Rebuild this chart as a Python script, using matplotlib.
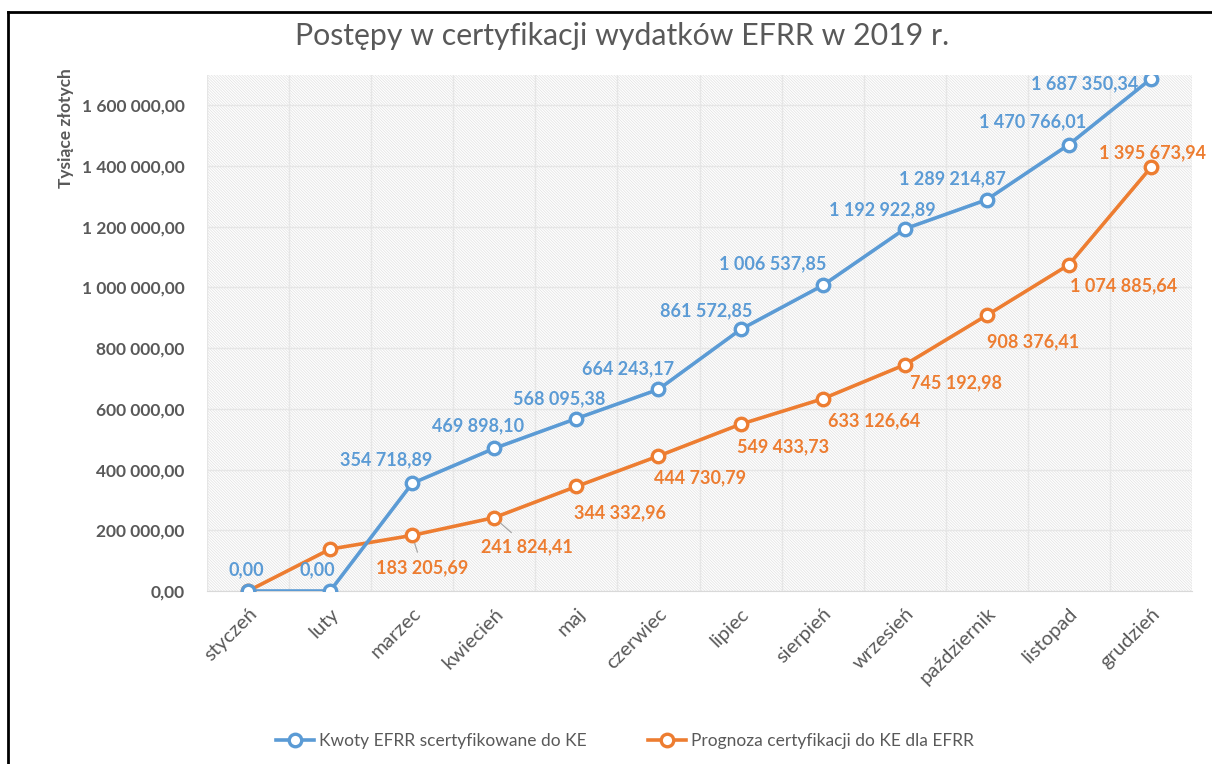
import matplotlib
matplotlib.use("Agg")
import matplotlib.pyplot as plt
from matplotlib.patches import Rectangle
from matplotlib.lines import Line2D
from matplotlib.ticker import FuncFormatter, MultipleLocator

plt.rcParams['font.family'] = ['Lato', 'DejaVu Sans']
plt.rcParams['hatch.linewidth'] = 0.5

months = ["styczeń", "luty", "marzec", "kwiecień", "maj", "czerwiec", "lipiec",
          "sierpień", "wrzesień", "październik", "listopad", "grudzień"]
certified = [0.00, 0.00, 354718.89, 469898.10, 568095.38, 664243.17, 861572.85,
             1006537.85, 1192922.89, 1289214.87, 1470766.01, 1687350.34]
forecast = [0.00, 138000.00, 183205.69, 241824.41, 344332.96, 444730.79, 549433.73,
            633126.64, 745192.98, 908376.41, 1074885.64, 1395673.94]
# which points carry a data label
cert_labelled = [True] * 12
fc_labelled = [False, False] + [True] * 10

BLUE = "#5B9BD5"
ORANGE = "#ED7D31"
GREY = "#595959"

def pl(v):
    s = f"{v:,.2f}"
    return s.replace(",", " ").replace(".", ",")

fig = plt.figure(figsize=(12.12, 7.64), dpi=100)
ax = fig.add_axes([207 / 1212, 1 - 591 / 764, (1192 - 207) / 1212, (591 - 75) / 764])

x = list(range(len(months)))
ax.add_patch(Rectangle((0, 0), 1, 1, transform=ax.transAxes, facecolor="white",
                       edgecolor="#e0e0e0", hatch="\\" * 12, lw=0, zorder=0))

ax.plot(x, certified, color=BLUE, lw=2.6, marker="o", ms=9, mfc="white",
        mec=BLUE, mew=2.4, zorder=4, label="Kwoty EFRR scertyfikowane do KE")
ax.plot(x, forecast, color=ORANGE, lw=2.6, marker="o", ms=9, mfc="white",
        mec=ORANGE, mew=2.4, zorder=3, label="Prognoza certyfikacji do KE dla EFRR")

# label offsets in pixels (dx, dy) relative to the marker
cert_off = [(-2, 21), (-13, 21), (-26, 24), (-16, 23), (-17, 20), (-30, 21), (-34, 19),
            (-50, 22), (-22, 19), (-34, 21), (-36, 23), (-66, -5)]
fc_off = [(0, 0), (0, 0), (10, -32), (33, -29), (44, -26), (42, -22), (43, -23),
          (51, -22), (51, -18), (46, -26), (55, -21), (2, 15)]

for i, v in enumerate(certified):
    if cert_labelled[i]:
        ax.annotate(pl(v), (i, v), xytext=cert_off[i], textcoords="offset pixels",
                    ha="center", va="center", color=BLUE, fontsize=13,
                    fontweight="bold", zorder=6)
for i, v in enumerate(forecast):
    if fc_labelled[i]:
        arrow = None
        if i in (2, 3):
            arrow = dict(arrowstyle="-", color="#a6a6a6", lw=0.9, shrinkA=3, shrinkB=6)
        ax.annotate(pl(v), (i, v), xytext=fc_off[i], textcoords="offset pixels",
                    ha="center", va="center", color=ORANGE, fontsize=13,
                    fontweight="bold", arrowprops=arrow, zorder=6)

ax.set_xlim(-0.5, 11.5)
ax.set_ylim(0, 1700000)
ax.yaxis.set_major_locator(MultipleLocator(200000))
ax.yaxis.set_major_formatter(FuncFormatter(lambda v, p: pl(v)))
ax.set_xticks(x)
ax.set_xticklabels(months, rotation=45, ha="right", rotation_mode="anchor")
ax.set_xticks([i + 0.5 for i in range(-1, 12)], minor=True)
ax.tick_params(axis="x", which="both", length=0, pad=10, labelsize=14.5, labelcolor=GREY)
ax.tick_params(axis="y", length=0, pad=16, labelsize=12.5, labelcolor=GREY)
for lab in ax.get_yticklabels():
    lab.set_fontweight("bold")

ax.grid(axis="y", which="major", color="#e6e6e6", lw=1)
ax.grid(axis="x", which="minor", color="#e6e6e6", lw=1)
ax.set_axisbelow(True)
for s in ax.spines.values():
    s.set_visible(False)
ax.spines["bottom"].set_visible(True)
ax.spines["bottom"].set_color("#d9d9d9")

fig.text(622 / 1212, 1 - 36 / 764, "Postępy w certyfikacji wydatków EFRR w 2019 r.",
         ha="center", va="center", fontsize=21.8, color=GREY)
fig.text(66 / 1212, 1 - 128 / 764, "Tysiące złotych", rotation=90, ha="center",
         va="center", fontsize=12.5, fontweight="bold", color=GREY)

fig.legend(loc="center", bbox_to_anchor=(625 / 1212, 1 - 741 / 764), ncol=2,
           frameon=False, fontsize=12.5, labelcolor=GREY, columnspacing=3.5,
           handlelength=2.2, handletextpad=0.3)

# frame lines (left and top edges of the screenshot border)
fig.add_artist(Line2D([8 / 1212, 1], [1 - 12 / 764, 1 - 12 / 764],
                      transform=fig.transFigure, color="black", lw=2))
fig.add_artist(Line2D([8 / 1212, 8 / 1212], [0, 1 - 12 / 764],
                      transform=fig.transFigure, color="black", lw=2))

fig.savefig("out.png", dpi=100)
